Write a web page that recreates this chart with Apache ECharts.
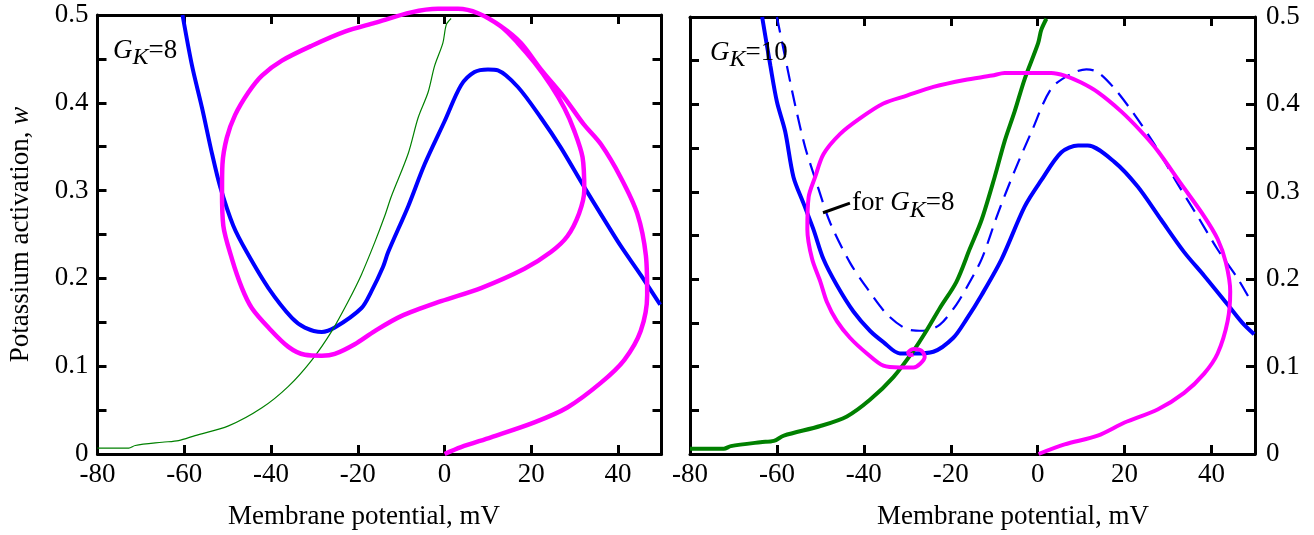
<!DOCTYPE html>
<html>
<head>
<meta charset="utf-8">
<title>Phase plane</title>
<script src="https://cdn.jsdelivr.net/npm/echarts@6/dist/echarts.min.js"></script>
<style>
html,body{margin:0;padding:0;background:#fff;}
#main{width:1314px;height:535px;}
</style>
</head>
<body>
<div id="main"></div>
<script>
// 左图 G_K=8 : [V (mV), w]
var blueLeft = [[-60.4,0.5],[-58.2,0.442],[-55.9,0.394],[-53.6,0.342],[-51.7,0.304],[-48.7,0.260],[-45.6,0.230],
	[-40.6,0.189],[-35.2,0.155],[-32.2,0.144],[-28.3,0.139],[-25.3,0.144],[-19.2,0.166],[-16.9,0.185],[-14.2,0.213],
	[-13.0,0.230],[-8.4,0.282],[-4.6,0.330],[0,0.379],[3.8,0.420],[6.9,0.435],[10,0.438],[12.3,0.437],[16.9,0.418],
	[22.2,0.383],[26.8,0.349],[32.2,0.304],[36.8,0.267],[40.6,0.237],[45.2,0.204],[49.7,0.170]];
var greenLeft = [[-80,0.0067],[-72.8,0.0067],[-71.3,0.0097],[-65.1,0.0134],[-61.3,0.0153],[-57.5,0.021],[-49.8,0.032],
	[-42.1,0.0526],[-36.0,0.077],[-30.6,0.107],[-26.0,0.140],[-22.2,0.174],[-19.2,0.204],[-16.1,0.241],[-13.8,0.271],
	[-12.3,0.293],[-8.4,0.342],[-6.1,0.383],[-3.8,0.412],[-2.3,0.442],[-0.4,0.468],[0.4,0.489],[1.5,0.496]];
var magentaLeft = [[0,0],[3.8,0.0078],[10.7,0.019],[20.7,0.036],[28.3,0.053],[36.0,0.081],[41.4,0.107],[45.2,0.140],
	[46.7,0.181],[46.4,0.226],[44.4,0.274],[40.6,0.315],[36.0,0.353],[32.0,0.376],[27.6,0.406],[22.2,0.438],[17.6,0.468],
	[13.0,0.487],[7.7,0.502],[3.1,0.507],[-1.5,0.507],[-7.7,0.503],[-16.1,0.491],[-23,0.481],[-30.6,0.465],[-37.5,0.448],
	[-42.1,0.431],[-45.2,0.412],[-48.3,0.386],[-50.2,0.360],[-51.2,0.330],[-51.3,0.300],[-51.0,0.260],[-49.0,0.222],
	[-46.7,0.189],[-44.4,0.166],[-40.6,0.144],[-36.0,0.122],[-32.2,0.113],[-28.3,0.112],[-25.3,0.114],[-20.7,0.125],
	[-16.1,0.140],[-10,0.157],[-0.8,0.174],[8.4,0.189],[18.4,0.211],[24.5,0.230],[28.3,0.248],[31.0,0.274],[32.2,0.300],
	[31.8,0.338],[29.9,0.368],[27.6,0.394],[24.5,0.420],[20.7,0.446],[16.9,0.468],[13.0,0.487],[7.7,0.502],[3.1,0.507],
	[-1.5,0.507]];

// 右图 G_K=10
var blueRight = [[-63.4,0.5],[-61.5,0.444],[-60.0,0.403],[-58.1,0.369],[-56.2,0.317],[-53.9,0.287],[-51.6,0.257],
	[-49.3,0.223],[-46.2,0.193],[-42.4,0.163],[-38.6,0.141],[-35.5,0.128],[-31.7,0.115],[-28.6,0.115],[-24.0,0.117],
	[-19.4,0.133],[-16.4,0.154],[-12.9,0.182],[-8.3,0.223],[-3.0,0.283],[0.8,0.313],[5.4,0.345],[9.3,0.353],[11.5,0.353],
	[17.7,0.334],[23.0,0.306],[28.4,0.268],[33.7,0.231],[38.3,0.204],[43.7,0.171],[47.1,0.150],[49.8,0.137]];
var dashedRight = [[-60.0,0.5],[-57.7,0.444],[-55.8,0.399],[-53.5,0.351],[-50.8,0.309],[-47.7,0.264],[-43.2,0.219],
	[-39.3,0.190],[-34.7,0.160],[-30.1,0.143],[-26.3,0.141],[-22.5,0.148],[-18.7,0.171],[-16.4,0.190],[-12.9,0.223],
	[-9.1,0.276],[-5.3,0.324],[-1.4,0.369],[3.1,0.418],[7.7,0.435],[11.2,0.440],[13.8,0.437],[17.7,0.418],[22.3,0.388],
	[26.9,0.354],[32.2,0.309],[36.8,0.272],[41.4,0.234],[46.0,0.201],[48.7,0.178]];
var greenRight = [[-80,0.006],[-72.2,0.006],[-70.6,0.009],[-63.8,0.0135],[-60.7,0.015],[-58.4,0.021],[-50.0,0.032],
	[-43.9,0.043],[-38.6,0.062],[-33.2,0.088],[-28.6,0.118],[-25.6,0.141],[-22.5,0.167],[-18.7,0.197],[-15.6,0.235],
	[-12.9,0.268],[-9.9,0.317],[-7.6,0.358],[-5.3,0.392],[-3.0,0.429],[0.1,0.470],[0.8,0.485],[2.0,0.498]];
var magentaRight = [[0.2,0],[6.2,0.011],[13.8,0.021],[20.0,0.036],[27.6,0.051],[33.7,0.070],[38.3,0.092],[41.4,0.115],
	[43.7,0.152],[44.3,0.186],[43.3,0.219],[41.4,0.246],[38.3,0.272],[33.0,0.309],[27.6,0.347],[23.8,0.369],[19.2,0.392],
	[13.8,0.414],[10.0,0.425],[6.2,0.433],[3.1,0.436],[-7.6,0.436],[-10.5,0.433],[-16.8,0.428],[-24.0,0.420],
	[-30.1,0.410],[-35.5,0.401],[-40.9,0.384],[-45.5,0.366],[-49.3,0.343],[-51.2,0.317],[-52.7,0.294],[-53.0,0.257],
	[-51.9,0.223],[-50.0,0.197],[-48.5,0.174],[-46.2,0.152],[-43.2,0.133],[-39.3,0.115],[-35.5,0.101],[-31.7,0.099],
	[-28.6,0.099],[-27.1,0.103],[-26.0,0.111],[-26.7,0.118],[-28.6,0.120],[-29.8,0.116],[-29.4,0.113],[-28.6,0.114]];
// "for G_K=8" 指示线
var pointerRight = [[-49.4,0.276],[-43.2,0.287]];

var FONT = 'Liberation Serif';
var V_MIN = -80, V_MAX = 50, V_STEP = 20;
var W_MIN = 0, W_MAX = 0.5, W_STEP = 0.05;

function wLabel(v){
	// 只在 0.1 的整数倍处显示
	var t = Math.round(v*100);
	if(t % 10 !== 0) return '';
	return String(t/100);
}

function xAxisOf(gridIndex, pos, withLabel, padding){
	var ax = {
		type:'value', gridIndex:gridIndex, position:pos,
		min:V_MIN, max:V_MAX, interval:V_STEP,
		axisLine:{onZero:false, lineStyle:{color:'#000', width:3}},
		axisTick:{inside:true, length:9, lineStyle:{color:'#000', width:3}},
		axisLabel:{show:withLabel, showMaxLabel:false, margin:7, color:'#000', fontFamily:FONT, fontSize:27},
		splitLine:{show:false}
	};
	if(withLabel){
		ax.name = 'Membrane potential, mV';
		ax.nameLocation = 'middle';
		ax.nameGap = 49;
		ax.nameTextStyle = {color:'#000', fontFamily:FONT, fontSize:27, padding:padding};
	}
	return ax;
}

function yAxisOf(gridIndex, pos, withLabel, withName){
	var ax = {
		type:'value', gridIndex:gridIndex, position:pos,
		min:W_MIN, max:W_MAX, interval:W_STEP,
		axisLine:{onZero:false, lineStyle:{color:'#000', width:3}},
		axisTick:{inside:true, length:9, lineStyle:{color:'#000', width:3}},
		axisLabel:{show:withLabel, margin:pos=='right'?11:9, color:'#000', fontFamily:FONT, fontSize:27, formatter:wLabel},
		splitLine:{show:false}
	};
	if(withName){
		ax.name = '{a|Potassium activation, }{b|w}';
		ax.nameLocation = 'middle';
		ax.nameGap = 63;
		ax.nameTextStyle = {color:'#000', fontFamily:FONT, fontSize:27,
			rich:{a:{fontFamily:FONT, fontSize:27, color:'#000'}, b:{fontFamily:FONT, fontSize:27, fontStyle:'italic', color:'#000'}}};
	}
	return ax;
}

var gkRich = {
	i:{fontFamily:FONT, fontSize:27, fontStyle:'italic', fontWeight:'normal', color:'#000'},
	s:{fontFamily:FONT, fontSize:24, fontStyle:'italic', fontWeight:'normal', color:'#000', padding:[15,0,0,0]},
	n:{fontFamily:FONT, fontSize:27, fontWeight:'normal', color:'#000'}
};

function curve(name, data, xi, yi, color, width, type, noClip){
	return {
		name:name, type:'line', xAxisIndex:xi, yAxisIndex:yi, data:data,
		showSymbol:false, symbol:'none', smooth:0.3, clip:!noClip, animation:false,
		lineStyle:{color:color, width:width, type:type||'solid'}
	};
}

var option = {
	backgroundColor:'#fff',
	animation:false,
	title:[
		{left:108, top:26, text:'{i|G}{s|K}{n|=8}', textStyle:{fontWeight:'normal', rich:gkRich}},
		{left:705, top:28, text:'{i|G}{s|K}{n|=10}', textStyle:{fontWeight:'normal', rich:gkRich}}
	],
	grid:[
		{left:97.5, top:15, width:564, height:447},
		{left:690, top:17, width:565, height:445}
	],
	xAxis:[
		xAxisOf(0,'bottom',true,[0,31,0,0]),
		xAxisOf(0,'top',false),
		xAxisOf(1,'bottom',true,[0,0,0,81]),
		xAxisOf(1,'top',false)
	],
	yAxis:[
		yAxisOf(0,'left',true,true),
		yAxisOf(0,'right',false,false),
		yAxisOf(1,'right',true,false),
		yAxisOf(1,'left',false,false)
	],
	series:[
		curve('V-nullcline G_K=8', blueLeft, 0, 0, '#0000ff', 4),
		curve('w-nullcline', greenLeft, 0, 0, '#008000', 1.2),
		curve('trajectory G_K=8', magentaLeft, 0, 0, '#ff00ff', 4.5, 'solid', true),

		curve('V-nullcline G_K=10', blueRight, 2, 2, '#0000ff', 4),
		curve('V-nullcline G_K=8 (ref)', dashedRight, 2, 2, '#0000ff', 2.2, [16,9]),
		curve('w-nullcline', greenRight, 2, 2, '#008000', 4),
		curve('trajectory G_K=10', magentaRight, 2, 2, '#ff00ff', 4),
		{
			name:'pointer', type:'line', xAxisIndex:2, yAxisIndex:2, data:pointerRight,
			showSymbol:false, symbol:'none', animation:false,
			lineStyle:{color:'#000', width:3},
			endLabel:{show:true, distance:2, formatter:'{n|for }{i|G}{s|K}{n|=8}', rich:gkRich}
		}
	]
};

echarts.init(document.getElementById('main'), null, {renderer:'canvas'}).setOption(option);
</script>
</body>
</html>
